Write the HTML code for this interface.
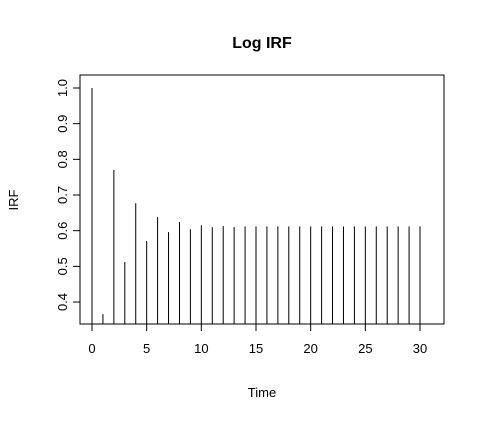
<!DOCTYPE html>
<html><head><meta charset="utf-8"><style>body{margin:0;background:#fff}svg{display:block;font-family:"Liberation Sans",Arial,sans-serif}</style></head>
<body>
<svg id="c" width="483" height="422"></svg>
<script>
const times=[0,1,2,3,4,5,6,7,8,9,10,11,12,13,14,15,16,17,18,19,20,21,22,23,24,25,26,27,28,29,30];
const irfValues=[1.0,0.366,0.770,0.512,0.677,0.571,0.638,0.596,0.624,0.604,0.615,0.610,0.613,0.610,0.612,0.612,0.612,0.612,0.612,0.612,0.612,0.612,0.612,0.612,0.612,0.612,0.612,0.612,0.612,0.612,0.612];
const xTicks=[0,5,10,15,20,25,30];
const yTicks=[0.4,0.5,0.6,0.7,0.8,0.9,1.0];
const yLabels=["0.4","0.5","0.6","0.7","0.8","0.9","1.0"];
const NS="http://www.w3.org/2000/svg",s=document.getElementById('c');
const L=80,R=444,T=75,B=324;
const X=v=>92+v*(420-92)/30;
const Y=v=>88+(1-v)*356.7;
function mk(t,a,txt){const e=document.createElementNS(NS,t);for(const k in a)e.setAttribute(k,a[k]);if(txt!==undefined)e.textContent=txt;s.appendChild(e);return e;}
let e;
e=mk('rect',{x:L,y:T,width:R-L,height:B-T,fill:'none',stroke:'#000'});


times.forEach((t,i)=>{e=mk('line',{x1:X(t),x2:X(t),y1:B,y2:Y(irfValues[i]),stroke:'#000','stroke-width':1});

});
mk('line',{x1:X(xTicks[0]),x2:X(xTicks[xTicks.length-1]),y1:B,y2:B,stroke:'#000'});
xTicks.forEach(t=>{mk('line',{x1:X(t),x2:X(t),y1:B,y2:B+7,stroke:'#000'});
e=mk('text',{x:X(t),y:B+29,'text-anchor':'middle','font-size':13},t);

});
mk('line',{x1:L,x2:L,y1:Y(yTicks[0]),y2:Y(yTicks[yTicks.length-1]),stroke:'#000'});
yTicks.forEach((v,i)=>{mk('line',{x1:L-7,x2:L,y1:Y(v),y2:Y(v),stroke:'#000'});
e=mk('text',{x:0,y:0,transform:`translate(67,${Y(v)}) rotate(-90)`,'text-anchor':'middle','font-size':13},yLabels[i]);

});
e=mk('text',{x:262,y:48,'text-anchor':'middle','font-size':16,'font-weight':'bold'},'Log IRF');


e=mk('text',{x:262,y:397,'text-anchor':'middle','font-size':13},'Time');


e=mk('text',{x:0,y:0,transform:'translate(18,200) rotate(-90)','text-anchor':'middle','font-size':13},'IRF');


</script>
</body></html>
